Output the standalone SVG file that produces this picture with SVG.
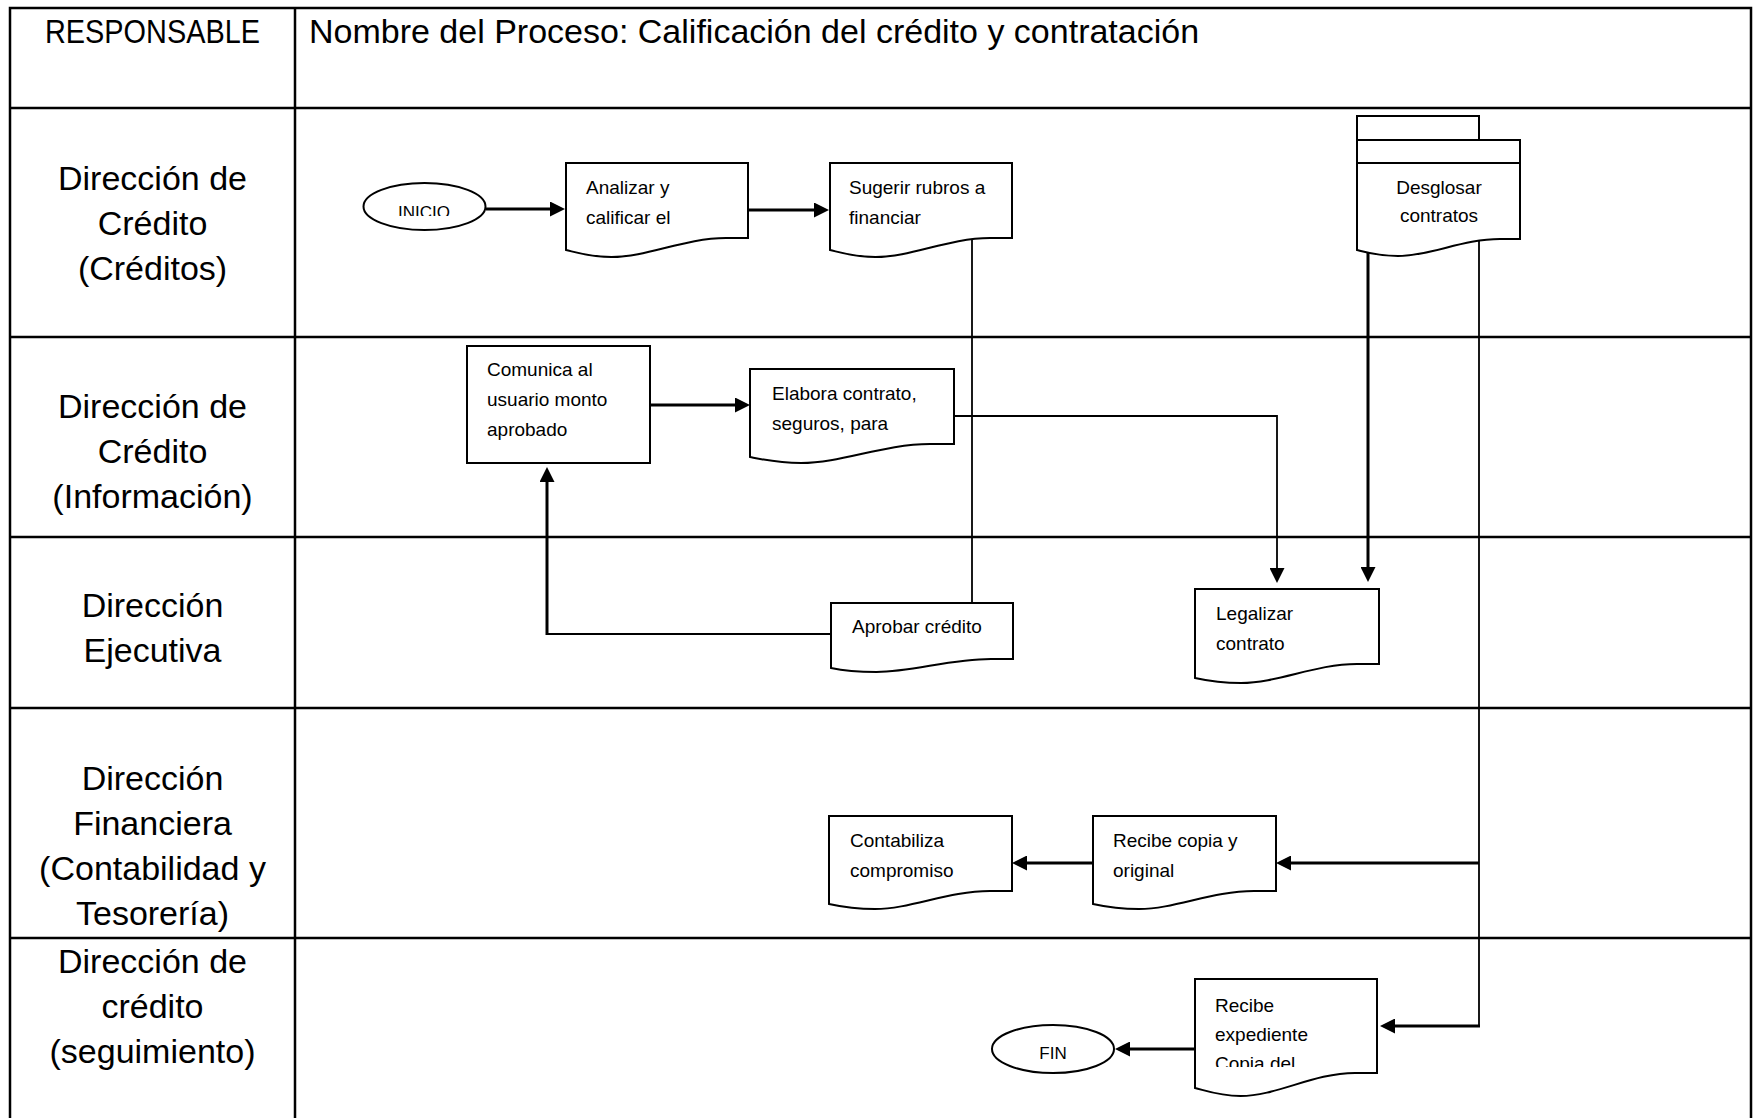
<svg xmlns="http://www.w3.org/2000/svg" width="1754" height="1118" viewBox="0 0 1754 1118">
<style>
.tbl{fill:none;stroke:#000;stroke-width:2.5}
.shape{fill:#fff;stroke:#000;stroke-width:2}
.thin{fill:none;stroke:#000;stroke-width:1.8}
.thick{fill:none;stroke:#000;stroke-width:3}
.hdr{font-family:"Liberation Sans",Arial,sans-serif;font-size:34px;fill:#000}
.lane{font-family:"Liberation Sans",Arial,sans-serif;font-size:34px;fill:#000;text-anchor:middle}
.t{font-family:"Liberation Sans",Arial,sans-serif;font-size:19px;fill:#000}
.tc{font-family:"Liberation Sans",Arial,sans-serif;font-size:17px;fill:#000;text-anchor:middle}
</style>
<defs>
<marker id="ah" markerUnits="userSpaceOnUse" viewBox="0 0 15 15" refX="11" refY="7.5" markerWidth="15" markerHeight="15" orient="auto">
<path d="M0,0 L15,7.5 L0,15 Z" fill="#000"/>
</marker>
<clipPath id="clipInicio"><rect x="360" y="180" width="130" height="36"/></clipPath>
<clipPath id="clipCopia"><rect x="1196" y="980" width="180" height="87"/></clipPath>
</defs>
<rect width="1754" height="1118" fill="#fff"/>

<g id="table">
<rect class="tbl" x="10" y="8" width="1741" height="1115"/>
<line class="tbl" x1="295" y1="8" x2="295" y2="1118"/>
<line class="tbl" x1="10" y1="108" x2="1751" y2="108"/>
<line class="tbl" x1="10" y1="337" x2="1751" y2="337"/>
<line class="tbl" x1="10" y1="537" x2="1751" y2="537"/>
<line class="tbl" x1="10" y1="708" x2="1751" y2="708"/>
<line class="tbl" x1="10" y1="938" x2="1751" y2="938"/>
<text class="hdr" x="152.5" y="43" text-anchor="middle" font-size="29" textLength="215" lengthAdjust="spacingAndGlyphs">RESPONSABLE</text>
<text class="hdr" x="309" y="43">Nombre del Proceso: Calificación del crédito y contratación</text>
</g>

<g id="lanes">
<g id="lane1"><text class="lane" x="152.5" y="190">Dirección de</text><text class="lane" x="152.5" y="235">Crédito</text><text class="lane" x="152.5" y="280">(Créditos)</text></g>
<g id="lane2"><text class="lane" x="152.5" y="418">Dirección de</text><text class="lane" x="152.5" y="463">Crédito</text><text class="lane" x="152.5" y="508">(Información)</text></g>
<g id="lane3"><text class="lane" x="152.5" y="617">Dirección</text><text class="lane" x="152.5" y="662">Ejecutiva</text></g>
<g id="lane4"><text class="lane" x="152.5" y="790">Dirección</text><text class="lane" x="152.5" y="835">Financiera</text><text class="lane" x="152.5" y="880">(Contabilidad y</text><text class="lane" x="152.5" y="925">Tesorería)</text></g>
<g id="lane5"><text class="lane" x="152.5" y="973">Dirección de</text><text class="lane" x="152.5" y="1018">crédito</text><text class="lane" x="152.5" y="1063">(seguimiento)</text></g>
</g>

<g id="connectors">
<line class="thick" x1="486" y1="209" x2="561" y2="209" marker-end="url(#ah)"/>
<line class="thick" x1="748" y1="210" x2="825" y2="210" marker-end="url(#ah)"/>
<line class="thin" x1="972" y1="236" x2="972" y2="604"/>
<polyline class="thin" points="831,634 547,634"/>
<line class="thick" x1="547" y1="635" x2="547" y2="471" marker-end="url(#ah)"/>
<line class="thick" x1="650" y1="405" x2="746" y2="405" marker-end="url(#ah)"/>
<polyline class="thin" points="954,416 1277,416 1277,579" marker-end="url(#ah)"/>
<line class="thick" x1="1368" y1="250" x2="1368" y2="578" marker-end="url(#ah)"/>
<line class="thin" x1="1479" y1="236" x2="1479" y2="1027"/>
<line class="thick" x1="1480" y1="1026" x2="1384" y2="1026" marker-end="url(#ah)"/>
<line class="thick" x1="1479" y1="863" x2="1280" y2="863" marker-end="url(#ah)"/>
<line class="thick" x1="1093" y1="863" x2="1016" y2="863" marker-end="url(#ah)"/>
<line class="thick" x1="1195" y1="1049" x2="1119" y2="1049" marker-end="url(#ah)"/>
</g>

<g id="inicio">
<ellipse class="shape" cx="424.5" cy="206.5" rx="61" ry="23.5"/>
<text class="tc" x="424" y="218" clip-path="url(#clipInicio)">INICIO</text>
</g>

<g id="analizar" transform="translate(566,163)">
<path class="shape" d="M0,0 H182 V75 H160 C118,75 82,94 45.5,94 C24,94 9,89 0,87 Z"/>
<text class="t" x="20" y="31">Analizar y</text>
<text class="t" x="20" y="61">calificar el</text>
</g>

<g id="sugerir" transform="translate(830,163)">
<path class="shape" d="M0,0 H182 V75 H160 C118,75 82,94 45.5,94 C24,94 9,89 0,87 Z"/>
<text class="t" x="19" y="31">Sugerir rubros a</text>
<text class="t" x="19" y="61">financiar</text>
</g>

<g id="desglosar" transform="translate(1357,116)">
<rect class="shape" x="0" y="0" width="122" height="24"/>
<rect class="shape" x="0" y="24" width="163" height="23"/>
<path class="shape" d="M0,47 H163 V123 H143 C106,123 73,140 41,140 C21,140 8,136 0,134 Z"/>
<text class="t" x="82" y="78" text-anchor="middle">Desglosar</text>
<text class="t" x="82" y="106" text-anchor="middle">contratos</text>
</g>

<g id="comunica">
<rect class="shape" x="467" y="346" width="183" height="117"/>
<text class="t" x="487" y="376">Comunica al</text>
<text class="t" x="487" y="406">usuario monto</text>
<text class="t" x="487" y="436">aprobado</text>
</g>

<g id="elabora" transform="translate(750,369)">
<path class="shape" d="M0,0 H204 V75 H180 C133,75 92,94 51,94 C26.5,94 10,90 0,88 Z"/>
<text class="t" x="22" y="31">Elabora contrato,</text>
<text class="t" x="22" y="61">seguros, para</text>
</g>

<g id="aprobar" transform="translate(831,603)">
<path class="shape" d="M0,0 H182 V56 H160 C118,56 82,69 45.5,69 C24,69 9,67 0,65 Z"/>
<text class="t" x="21" y="30">Aprobar crédito</text>
</g>

<g id="legalizar" transform="translate(1195,589)">
<path class="shape" d="M0,0 H184 V75 H162 C120,75 83,94 46,94 C24,94 9,91 0,89 Z"/>
<text class="t" x="21" y="31">Legalizar</text>
<text class="t" x="21" y="61">contrato</text>
</g>

<g id="contabiliza" transform="translate(829,816)">
<path class="shape" d="M0,0 H183 V75 H161 C119,75 82,93 46,93 C24,93 9,90 0,88 Z"/>
<text class="t" x="21" y="31">Contabiliza</text>
<text class="t" x="21" y="61">compromiso</text>
</g>

<g id="recibe-copia" transform="translate(1093,816)">
<path class="shape" d="M0,0 H183 V75 H161 C119,75 82,93 46,93 C24,93 9,90 0,88 Z"/>
<text class="t" x="20" y="31">Recibe copia y</text>
<text class="t" x="20" y="61">original</text>
</g>

<g id="recibe-expediente">
<path class="shape" transform="translate(1195,979)" d="M0,0 H182 V94 H160 C118,94 82,117 45.5,117 C24,117 9,111 0,109 Z"/>
<text class="t" x="1215" y="1012">Recibe</text>
<text class="t" x="1215" y="1041">expediente</text>
<text class="t" x="1215" y="1070" clip-path="url(#clipCopia)">Copia del</text>
</g>

<g id="fin">
<ellipse class="shape" cx="1053" cy="1049" rx="61" ry="24"/>
<text class="tc" x="1053" y="1059">FIN</text>
</g>
</svg>
